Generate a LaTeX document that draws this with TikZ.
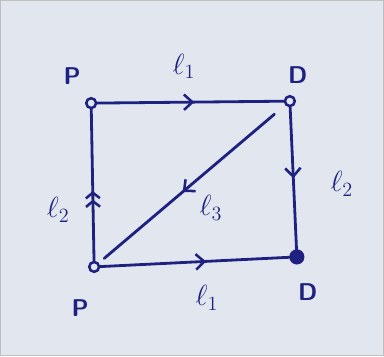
\documentclass[tikz,border=0pt]{standalone}
\usepackage{xcolor}
\usetikzlibrary{arrows.meta, decorations.markings}

\definecolor{ink}{HTML}{1E2180}
\definecolor{paper}{HTML}{E2E7EF}

\begin{document}
\begin{tikzpicture}[
    x=0.025cm, y=-0.025cm,
    edge/.style={ink, line width=2pt, line cap=round},
    dot/.style={circle, draw=ink, line width=1.8pt, fill=paper, inner sep=0pt, minimum size=7pt},
    blob/.style={circle, draw=ink, line width=1.8pt, fill=ink, inner sep=0pt, minimum size=9pt},
    vlab/.style={ink, font=\LARGE\sffamily\bfseries},
    elab/.style={ink, font=\huge},
    midarrow/.style={postaction={decorate}, decoration={markings,
        mark=at position #1 with {\arrow[ink]{Straight Barb[length=6pt, width=11pt, line width=1.8pt]}}}},
    midtwo/.style={postaction={decorate}, decoration={markings,
        mark=at position #1 with {\arrow[ink]{Straight Barb[length=4pt, width=10pt, line width=1.8pt] Straight Barb[length=4pt, width=10pt, line width=1.8pt]}}}},
]
% paper
\fill[paper, draw=gray!50] (0,0) rectangle (384,356);
\useasboundingbox (0,0) rectangle (384,356);

% vertices
\node[dot] (tl) at (91,103) {};
\node[dot] (tr) at (290,101) {};
\node[blob] (br) at (297,257) {};
\node[dot] (bl) at (94,267) {};

% edges
\draw[edge, midarrow=0.52] (tl) -- (tr);
\draw[edge, midarrow=0.5] (tr) -- (br);
\draw[edge, midarrow=0.56] (bl) -- (br);
\draw[edge, midtwo=0.46] (bl) -- (tl);
\draw[edge, midarrow=0.55, shorten <=10pt, shorten >=5pt] (tr) -- (bl);

% vertex labels
\node[vlab] (ptl) at (72,76) {P};
\node[vlab] (dtr) at (298,75) {D};
\node[vlab] (dbr) at (308,292) {D};
\node[vlab] (pbl) at (80,308) {P};

% edge labels
\node[elab] (l1t) at (184,66) {$\ell_1$};
\node[elab] (l2l) at (58,210) {$\ell_2$};
\node[elab] (l2r) at (342,184) {$\ell_2$};
\node[elab] (l3) at (211,208) {$\ell_3$};
\node[elab] (l1b) at (207,298) {$\ell_1$};
\end{tikzpicture}
\end{document}
